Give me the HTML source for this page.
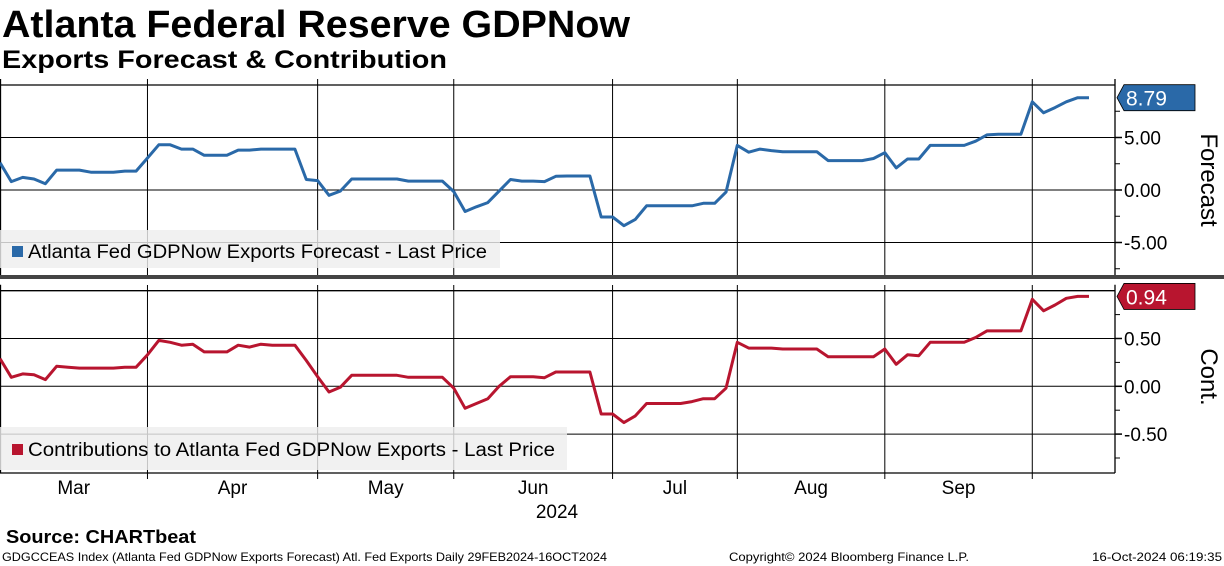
<!DOCTYPE html>
<html><head><meta charset="utf-8"><style>
html,body{margin:0;padding:0;background:#fff;}
svg{display:block;font-family:"Liberation Sans","DejaVu Sans",sans-serif;}
</style></head><body>
<svg id="chart" width="1224" height="566" viewBox="0 0 1224 566" xmlns="http://www.w3.org/2000/svg">
<text x="2" y="37" font-size="38" font-weight="bold" textLength="628" lengthAdjust="spacingAndGlyphs">Atlanta Federal Reserve GDPNow</text>
<text x="2" y="68" font-size="25" font-weight="bold" textLength="445" lengthAdjust="spacingAndGlyphs">Exports Forecast &amp; Contribution</text>
<g id="grid"></g>
<g id="legendbg"></g>
<g id="series"></g>
<g id="axes"></g>
<text x="6" y="543" font-size="18" font-weight="bold" textLength="190" lengthAdjust="spacingAndGlyphs">Source: CHARTbeat</text>
<text x="2" y="561" font-size="12" textLength="605" lengthAdjust="spacingAndGlyphs">GDGCCEAS Index (Atlanta Fed GDPNow Exports Forecast) Atl. Fed Exports  Daily 29FEB2024-16OCT2024</text>
<text x="729" y="561" font-size="12" textLength="240" lengthAdjust="spacingAndGlyphs">Copyright© 2024 Bloomberg Finance L.P.</text>
<text x="1092" y="561" font-size="12" textLength="130" lengthAdjust="spacingAndGlyphs">16-Oct-2024 06:19:35</text>
</svg>
<script>
const forecastValues = [2.6,0.8,1.2,1.05,0.6,1.9,1.9,1.9,1.7,1.7,1.7,1.8,1.8,3.05,4.3,4.3,3.9,3.9,3.3,3.3,3.3,3.8,3.8,3.9,3.9,3.9,3.9,1.0,0.9,-0.5,-0.1,1.05,1.05,1.05,1.05,1.05,0.85,0.85,0.85,0.85,-0.15,-2.05,-1.6,-1.2,-0.1,1.0,0.85,0.85,0.8,1.3,1.33,1.33,1.33,-2.57,-2.57,-3.4,-2.8,-1.5,-1.5,-1.5,-1.5,-1.5,-1.27,-1.27,-0.2,4.25,3.6,3.9,3.75,3.65,3.65,3.65,3.65,2.8,2.8,2.8,2.8,3.0,3.55,2.1,2.95,2.95,4.25,4.25,4.25,4.25,4.65,5.25,5.3,5.3,5.3,8.4,7.35,7.85,8.4,8.79,8.79];
const contribValues = [0.29,0.094,0.13,0.12,0.07,0.21,0.2,0.19,0.19,0.19,0.19,0.2,0.2,0.33,0.48,0.46,0.43,0.44,0.36,0.36,0.36,0.43,0.41,0.44,0.43,0.43,0.43,0.27,0.1,-0.06,-0.01,0.115,0.115,0.115,0.115,0.115,0.094,0.094,0.094,0.094,-0.02,-0.23,-0.18,-0.13,0,0.1,0.1,0.1,0.09,0.15,0.15,0.15,0.15,-0.29,-0.29,-0.38,-0.31,-0.18,-0.18,-0.18,-0.18,-0.16,-0.13,-0.13,-0.02,0.46,0.40,0.40,0.40,0.39,0.39,0.39,0.39,0.31,0.31,0.31,0.31,0.31,0.39,0.23,0.33,0.32,0.46,0.46,0.46,0.46,0.51,0.58,0.58,0.58,0.58,0.91,0.79,0.85,0.92,0.94,0.94];
const monthLabels = ["Mar","Apr","May","Jun","Jul","Aug","Sep"];
const monthStartIdx = [0,13,28,40,54,65,78,91];
const topTicks = [5,0,-5];
const topTickLabels = ["5.00","0.00","-5.00"];
const botTicks = [0.5,0,-0.5];
const botTickLabels = ["0.50","0.00","-0.50"];

const NS="http://www.w3.org/2000/svg";
const X0=0, X1=1089, NMAX=96;
const xS=i=>X0+(X1-X0)*i/NMAX;
const yTop=v=>190-v*10.5;
const yBot=v=>386.3-v*95.6;
const grid=document.getElementById('grid'), lbg=document.getElementById('legendbg'), ser=document.getElementById('series'), axes=document.getElementById('axes');
function mk(tag,attrs,parent){const e=document.createElementNS(NS,tag);for(const k in attrs)e.setAttribute(k,attrs[k]);parent.appendChild(e);return e;}

// legend backgrounds (semi-transparent, gridlines show through)
let lb=mk('rect',{x:0,y:230,width:500,height:38,fill:'#eeeeee','fill-opacity':0.82},lbg);


lb=mk('rect',{x:0,y:427,width:567,height:43,fill:'#eeeeee','fill-opacity':0.82},lbg);



// panel frames
[[85,275],[290.7,473]].forEach(([t,b],p)=>{
  let h=mk('line',{x1:0,x2:1115,y1:t,y2:t,stroke:'#000','stroke-width':1.3},grid);
  
  
  let v=mk('line',{x1:1115,x2:1115,y1:t-6,y2:b,stroke:'#000','stroke-width':1.3},axes);
  
  
  let v2=mk('line',{x1:0.5,x2:0.5,y1:t-6,y2:b,stroke:'#000','stroke-width':1.3},grid);
  
  
});
let bl=mk('line',{x1:0,x2:1115,y1:473,y2:473,stroke:'#000','stroke-width':1.3},axes);


let sep=mk('rect',{x:0,y:275,width:1224,height:4,fill:'#444'},axes);



// vertical month gridlines
monthStartIdx.forEach((mi,k)=>{
  if(k===0)return;
  const x=xS(mi);
  [[79,275],[285,479]].forEach(([a,b])=>{
    const l=mk('line',{x1:x,x2:x,y1:a,y2:b,stroke:'#000','stroke-width':1},grid);
    
    
  });
});
// month labels
monthLabels.forEach((m,k)=>{
  const x=(xS(monthStartIdx[k])+xS(monthStartIdx[k+1]))/2;
  const t=mk('text',{x:x,y:494,'font-size':19,'text-anchor':'middle'},axes);
  t.textContent=m;
  
  
});
let yr=mk('text',{x:557,y:518,'font-size':19,'text-anchor':'middle'},axes);
yr.textContent='2024';



// horizontal gridlines + tick labels
function hticks(ticks,labels,yf,minor,panelName){
  ticks.forEach((v,i)=>{
    const y=yf(v);
    const g=mk('line',{x1:0,x2:1115,y1:y,y2:y,stroke:'#000','stroke-width':1},grid);
    
    
    const tk=mk('line',{x1:1115,x2:1122,y1:y,y2:y,stroke:'#000','stroke-width':1.5},axes);
    
    
    const t=mk('text',{x:1124,y:y+7,'font-size':19},axes);
    t.textContent=labels[i];
    
    
  });
  minor.forEach(v=>{
    const y=yf(v);
    const tk=mk('line',{x1:1115,x2:1120,y1:y,y2:y,stroke:'#000','stroke-width':1},axes);
    
    
  });
}
hticks(topTicks,topTickLabels,yTop,[7.5,2.5,-2.5,-7.5],'forecast');
hticks(botTicks,botTickLabels,yBot,[0.75,0.25,-0.25,-0.75],'contribution');

// series
function line(vals,yf,color,name){
  const d=vals.map((v,i)=>(i?'L':'M')+xS(i).toFixed(1)+' '+yf(v).toFixed(1)).join(' ');
  const p=mk('path',{d:d,fill:'none',stroke:color,'stroke-width':3,'stroke-linejoin':'round'},ser);
  
  
}
line(forecastValues,yTop,'#2a69a8','forecast-line');
line(contribValues,yBot,'#b8152f','contribution-line');

// last value badges
function badge(val,yf,color,name,dec){
  const y=yf(val);
  const p=mk('path',{d:`M1117 ${y} L1124 ${y-13} L1195 ${y-13} L1195 ${y+13} L1124 ${y+13} Z`,fill:color,stroke:'#000','stroke-width':0.8},axes);
  
  
  const t=mk('text',{x:1126,y:y+8,'font-size':21,fill:'#fff'},axes);
  t.textContent=val.toFixed(dec);
  
  
}
badge(forecastValues[forecastValues.length-1],yTop,'#2a69a8','forecast',2);
badge(contribValues[contribValues.length-1],yBot,'#b8152f','contribution',2);

// axis titles
let at=mk('text',{x:0,y:0,'font-size':24,transform:'translate(1201,180) rotate(90)','text-anchor':'middle'},axes);
at.textContent='Forecast';


at=mk('text',{x:0,y:0,'font-size':24,transform:'translate(1201,377) rotate(90)','text-anchor':'middle'},axes);
at.textContent='Cont.';



// legends
function legend(y,color,text,w,name){
  const r=mk('rect',{x:12,y:y-12,width:11,height:11,fill:color},axes);
  
  
  const t=mk('text',{x:28,y:y,'font-size':19,textLength:w,lengthAdjust:'spacingAndGlyphs'},axes);
  t.textContent=text;
  
  
}
legend(258,'#2a69a8','Atlanta Fed GDPNow Exports Forecast - Last Price',459,'forecast-legend');
legend(456,'#b8152f','Contributions to Atlanta Fed GDPNow Exports - Last Price',527,'contribution-legend');
</script>
</body></html>
